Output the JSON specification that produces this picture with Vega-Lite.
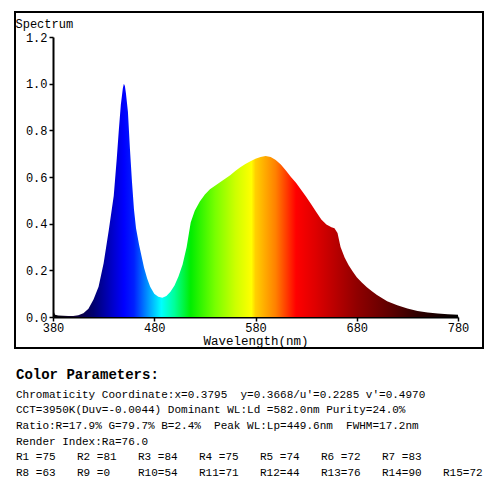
{
  "$schema": "https://vega.github.io/schema/vega-lite/v6.json",
  "padding": {"left": 14, "top": 11, "right": 0, "bottom": 0},
  "background": "white",
  "config": {
    "view": {"stroke": "black", "strokeWidth": 2},
    "font": "Liberation Mono",
    "axis": {"grid": false, "domainColor": "black", "domainWidth": 2, "tickColor": "black", "tickWidth": 1.5, "tickSize": 4, "labelColor": "black", "titleColor": "black", "labelFont": "Liberation Mono", "titleFont": "Liberation Mono", "labelFontWeight": "normal", "titleFontWeight": "normal"}
  },
  "datasets": {
    "spectrum": [
      {"wl": 380, "v": 0.035}, {"wl": 381, "v": 0.02}, {"wl": 382, "v": 0.01}, {"wl": 385, "v": 0.006},
      {"wl": 390, "v": 0.005}, {"wl": 395, "v": 0.004}, {"wl": 400, "v": 0.004}, {"wl": 405, "v": 0.007},
      {"wl": 410, "v": 0.016}, {"wl": 415, "v": 0.035}, {"wl": 420, "v": 0.075}, {"wl": 425, "v": 0.13},
      {"wl": 430, "v": 0.23}, {"wl": 435, "v": 0.37}, {"wl": 440, "v": 0.52}, {"wl": 443, "v": 0.68},
      {"wl": 445, "v": 0.8}, {"wl": 447, "v": 0.91}, {"wl": 449, "v": 0.98}, {"wl": 450, "v": 1.0},
      {"wl": 451, "v": 0.99}, {"wl": 452, "v": 0.96}, {"wl": 454, "v": 0.88}, {"wl": 456, "v": 0.72},
      {"wl": 458, "v": 0.58}, {"wl": 460, "v": 0.46}, {"wl": 462, "v": 0.38}, {"wl": 465, "v": 0.31},
      {"wl": 468, "v": 0.25}, {"wl": 470, "v": 0.21}, {"wl": 473, "v": 0.165}, {"wl": 476, "v": 0.13},
      {"wl": 480, "v": 0.1}, {"wl": 484, "v": 0.087}, {"wl": 488, "v": 0.083}, {"wl": 492, "v": 0.09},
      {"wl": 496, "v": 0.108}, {"wl": 500, "v": 0.135}, {"wl": 504, "v": 0.175}, {"wl": 508, "v": 0.225},
      {"wl": 512, "v": 0.3}, {"wl": 516, "v": 0.405}, {"wl": 520, "v": 0.455}, {"wl": 525, "v": 0.495},
      {"wl": 530, "v": 0.525}, {"wl": 535, "v": 0.548}, {"wl": 540, "v": 0.563}, {"wl": 545, "v": 0.578},
      {"wl": 550, "v": 0.592}, {"wl": 555, "v": 0.608}, {"wl": 560, "v": 0.626}, {"wl": 565, "v": 0.642},
      {"wl": 570, "v": 0.656}, {"wl": 575, "v": 0.668}, {"wl": 580, "v": 0.678}, {"wl": 585, "v": 0.686},
      {"wl": 590, "v": 0.69}, {"wl": 595, "v": 0.686}, {"wl": 600, "v": 0.673}, {"wl": 605, "v": 0.654},
      {"wl": 610, "v": 0.628}, {"wl": 615, "v": 0.6}, {"wl": 620, "v": 0.575}, {"wl": 625, "v": 0.545},
      {"wl": 630, "v": 0.515}, {"wl": 635, "v": 0.483}, {"wl": 640, "v": 0.45}, {"wl": 645, "v": 0.418},
      {"wl": 650, "v": 0.396}, {"wl": 655, "v": 0.385}, {"wl": 658, "v": 0.38}, {"wl": 661, "v": 0.36},
      {"wl": 664, "v": 0.3}, {"wl": 668, "v": 0.255}, {"wl": 672, "v": 0.222}, {"wl": 676, "v": 0.195},
      {"wl": 680, "v": 0.17}, {"wl": 685, "v": 0.148}, {"wl": 690, "v": 0.128}, {"wl": 695, "v": 0.11},
      {"wl": 700, "v": 0.094}, {"wl": 710, "v": 0.068}, {"wl": 720, "v": 0.05}, {"wl": 730, "v": 0.036},
      {"wl": 740, "v": 0.026}, {"wl": 750, "v": 0.019}, {"wl": 760, "v": 0.015}, {"wl": 770, "v": 0.012},
      {"wl": 780, "v": 0.01}
    ],
    "params": [
      {"row": 0, "col": 0, "label": "Color Parameters:"},
      {"row": 1, "col": 0, "label": "Chromaticity Coordinate:x=0.3795\u00a0\u00a0y=0.3668/u'=0.2285 v'=0.4970"},
      {"row": 2, "col": 0, "label": "CCT=3950K(Duv=-0.0044) Dominant WL:Ld =582.0nm Purity=24.0%"},
      {"row": 3, "col": 0, "label": "Ratio:R=17.9% G=79.7% B=2.4%\u00a0\u00a0Peak WL:Lp=449.6nm\u00a0\u00a0FWHM=17.2nm"},
      {"row": 4, "col": 0, "label": "Render Index:Ra=76.0"},
      {"row": 5, "col": 0, "label": "R1 =75"}, {"row": 5, "col": 1, "label": "R2 =81"},
      {"row": 5, "col": 2, "label": "R3 =84"}, {"row": 5, "col": 3, "label": "R4 =75"},
      {"row": 5, "col": 4, "label": "R5 =74"}, {"row": 5, "col": 5, "label": "R6 =72"},
      {"row": 5, "col": 6, "label": "R7 =83"},
      {"row": 6, "col": 0, "label": "R8 =63"}, {"row": 6, "col": 1, "label": "R9 =0"},
      {"row": 6, "col": 2, "label": "R10=54"}, {"row": 6, "col": 3, "label": "R11=71"},
      {"row": 6, "col": 4, "label": "R12=44"}, {"row": 6, "col": 5, "label": "R13=76"},
      {"row": 6, "col": 6, "label": "R14=90"}, {"row": 6, "col": 7, "label": "R15=72"}
    ]
  },
  "vconcat": [
    {
      "width": 468,
      "height": 336,
      "layer": [
        {
          "data": {"name": "spectrum"},
          "mark": {
            "type": "area",
            "interpolate": "linear",
            "color": {
              "gradient": "linear", "x1": 0, "x2": 1, "y1": 0, "y2": 0,
              "stops": [
                {"offset": 0, "color": "#000000"},
                {"offset": 0.05, "color": "#100030"},
                {"offset": 0.1, "color": "#000070"},
                {"offset": 0.15, "color": "#0000d0"},
                {"offset": 0.175, "color": "#0000ff"},
                {"offset": 0.2, "color": "#0020ff"},
                {"offset": 0.2375, "color": "#00a0ff"},
                {"offset": 0.2675, "color": "#00ffff"},
                {"offset": 0.3, "color": "#00ff99"},
                {"offset": 0.34, "color": "#00ee00"},
                {"offset": 0.4, "color": "#77ff00"},
                {"offset": 0.45, "color": "#ccff00"},
                {"offset": 0.49, "color": "#ffff00"},
                {"offset": 0.5, "color": "#ffd000"},
                {"offset": 0.55, "color": "#ff8000"},
                {"offset": 0.6, "color": "#ff0000"},
                {"offset": 0.65, "color": "#dd0000"},
                {"offset": 0.75, "color": "#900000"},
                {"offset": 0.83, "color": "#600000"},
                {"offset": 0.9, "color": "#300000"},
                {"offset": 1, "color": "#000000"}
              ]
            }
          },
          "encoding": {
            "x": {
              "field": "wl", "type": "quantitative",
              "scale": {"domain": [380, 780], "range": [38, 443], "nice": false, "zero": false},
              "axis": {"orient": "bottom", "offset": -31, "values": [380, 480, 580, 680, 780], "title": "Wavelength(nm)", "labelFontSize": 12, "titleFontSize": 12.5, "labelPadding": 1, "titlePadding": 1, "labelFlush": false}
            },
            "y": {
              "field": "v", "type": "quantitative",
              "scale": {"domain": [0, 1.2], "range": [305, 25], "nice": false},
              "axis": {"orient": "left", "offset": -38, "values": [0, 0.2, 0.4, 0.6, 0.8, 1.0, 1.2], "format": ".1f", "labelFontSize": 12, "labelPadding": 2, "title": "Spectrum", "titleFontSize": 12, "titleAngle": 0, "titleAlign": "left", "titleBaseline": "middle", "titleX": -38, "titleY": 11}
            }
          }
        },
        {
          "mark": {"type": "text", "align": "left", "baseline": "middle", "font": "Liberation Mono", "fontSize": 13, "fontWeight": "normal", "color": "black"},
          "encoding": {
            "x": {"datum": 599, "type": "quantitative"},
            "y": {"datum": 1.24, "type": "quantitative"},
            "text": {"value": "1.0=456.974mW/nm"}
          }
        }
      ]
    },
    {
      "width": 470,
      "height": 120,
      "view": {"stroke": null},
      "data": {"name": "params"},
      "layer": [
        {
          "transform": [{"filter": "datum.row > 0"}],
          "mark": {"type": "text", "align": "left", "baseline": "middle", "font": "Liberation Mono", "fontSize": 11, "fontWeight": "normal", "color": "black"},
          "encoding": {
            "x": {"field": "col", "type": "quantitative", "scale": {"domain": [0, 7], "range": [1, 428]}, "axis": null},
            "y": {"field": "row", "type": "quantitative", "scale": {"domain": [0, 6], "range": [17, 111]}, "axis": null},
            "text": {"field": "label"}
          }
        },
        {
          "transform": [{"filter": "datum.row == 0"}],
          "mark": {"type": "text", "align": "left", "baseline": "middle", "font": "Liberation Mono", "fontSize": 14, "fontWeight": "bold", "color": "black", "dy": -4},
          "encoding": {
            "x": {"field": "col", "type": "quantitative", "scale": {"domain": [0, 7], "range": [1, 428]}, "axis": null},
            "y": {"field": "row", "type": "quantitative", "scale": {"domain": [0, 6], "range": [17, 111]}, "axis": null},
            "text": {"field": "label"}
          }
        }
      ]
    }
  ],
  "spacing": 13
}
